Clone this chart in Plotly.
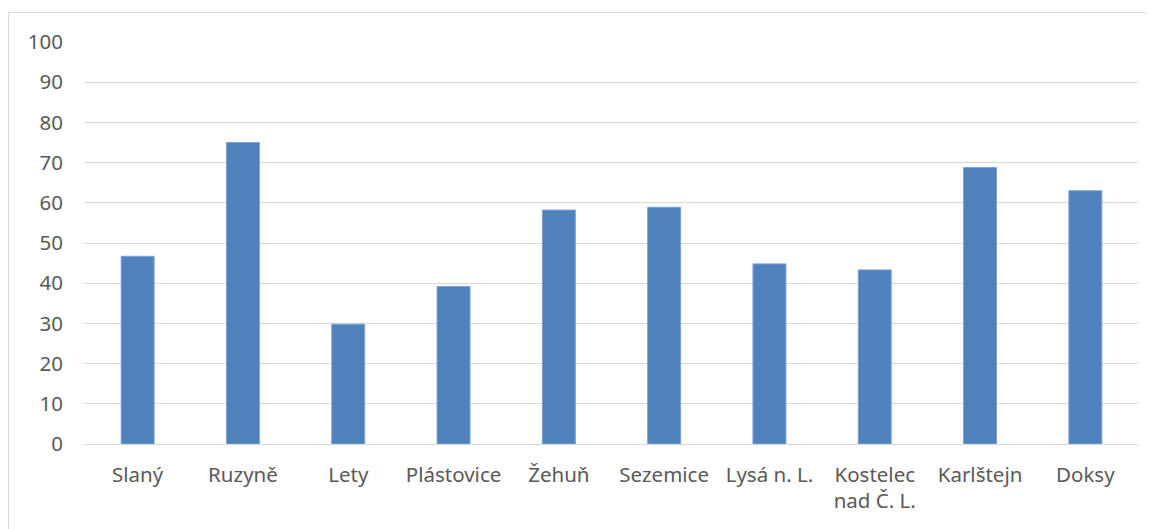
import plotly.graph_objects as go

categories = ["Slaný", "Ruzyně", "Lety", "Plástovice", "Žehuň", "Sezemice",
              "Lysá n. L.", "Kostelec<br>nad Č. L.", "Karlštejn", "Doksy"]
values = [46.7, 75.0, 29.8, 39.2, 58.2, 58.9, 44.8, 43.3, 68.8, 63.0]
y_ticks = [0, 10, 20, 30, 40, 50, 60, 70, 80, 90, 100]

# page has an 8px body margin, so the figure is drawn offset by (8, 8)
W, H = 1146, 521
ML, MR, MT, MB = 77, 16, 34, 85
pw = W - ML - MR
ph = H - MT - MB

fig = go.Figure(go.Bar(
    x=categories, y=values,
    marker=dict(color="#4f81bd", line=dict(color="#7fa2d3", width=1)),
    hoverinfo="x+y",
))

fig.update_layout(
    width=W, height=H,
    margin=dict(l=ML, r=MR, t=MT, b=MB),
    paper_bgcolor="white", plot_bgcolor="white",
    bargap=0.687,
    showlegend=False,
    font=dict(family="Noto Sans", size=20.5, color="#595959"),
    xaxis=dict(showgrid=False, showline=False, zeroline=False, ticks="",
               ticklabelstandoff=16, tickfont=dict(size=20.5, color="#595959")),
    yaxis=dict(range=[0, 100], tickvals=y_ticks, showgrid=True,
               gridcolor="#d9d9d9", gridwidth=1.3, zeroline=True,
               zerolinecolor="#d9d9d9", zerolinewidth=1.3, showline=False,
               ticks="", ticklabelstandoff=21,
               tickfont=dict(size=20.5, color="#595959")),
    shapes=[dict(type="rect", xref="paper", yref="paper",
                 x0=(0.5 - ML) / pw, x1=(W + 20 - ML) / pw,
                 y0=(ph + MT - (H + 20)) / ph, y1=(ph + MT - 4.5) / ph,
                 line=dict(color="#d9d9d9", width=1), layer="below")],
)

fig.write_html("out.html")
